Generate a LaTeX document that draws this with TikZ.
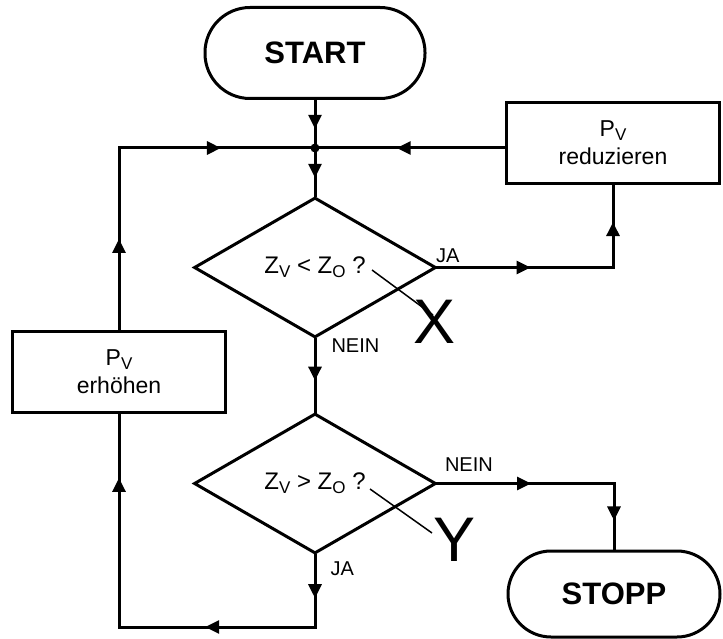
\documentclass[tikz,border=0pt]{standalone}
\usepackage{fontspec}
\setmainfont{Liberation Sans}
\usetikzlibrary{positioning, shapes.geometric, arrows.meta, decorations.markings}
\newcommand{\lowsub}[1]{\raisebox{-4pt}{\fontsize{17}{17}\selectfont #1}}

\begin{document}
\begin{tikzpicture}[
    x=1pt, y=-1pt,
    line width=3pt,
    terminal/.style={rectangle, draw, rounded corners=45pt, minimum width=220pt, minimum height=91pt, font=\fontsize{31}{36}\selectfont\bfseries},
    decision/.style={diamond, draw, minimum width=242pt, minimum height=140pt, inner sep=0pt, font=\fontsize{24}{28}\selectfont},
    process/.style={rectangle, draw, minimum width=213pt, minimum height=81pt, align=center, font=\fontsize{23}{28}\selectfont},
    answer/.style={inner sep=0pt, font=\fontsize{20}{24}\selectfont},
    bigletter/.style={inner sep=0pt, font=\fontsize{63}{70}\selectfont},
    leader/.style={line width=1.5pt},
    flow/.style={line cap=rect},
    midarrow/.style={flow, postaction={decorate}, decoration={markings, mark=at position #1 with {\arrow{Triangle[length=14pt,width=13pt]}}}}
]
\useasboundingbox (0,0) rectangle (723,639);

% Main column
\node[terminal] (start) at (315,53) {START};
\coordinate[below=48pt of start] (jn);
\node[decision, below=96pt of start] (vgl1) {Z\lowsub{V} < Z\lowsub{O} ?};
\node[decision, below=73pt of vgl1] (vgl2) {Z\lowsub{V} > Z\lowsub{O} ?};
\coordinate[below=72pt of vgl2] (ku);

% Side boxes
\node[process] (red) at (613,143) {P\lowsub{V}\\reduzieren};
\node[process] (erh) at (119,372) {P\lowsub{V}\\erhöhen};
\node[terminal, minimum width=212pt, minimum height=86pt, rounded corners=43pt] (stop) at (614,594) {STOPP};

% Corners
\coordinate (kl) at (erh.north |- jn);
\coordinate (kl2) at (erh.south |- ku);
\coordinate (kr1) at (red.south |- vgl1.east);
\coordinate (kr2) at (stop.north |- vgl2.east);

% Edges
\draw[midarrow=0.6] (start) -- (jn);
\draw[midarrow=0.62] (jn) -- (vgl1);
\draw[midarrow=0.57] (red.west |- jn) -- (jn);
\draw[midarrow=0.52] (kl) -- (jn);
\draw[midarrow=0.5] (erh) -- (kl);
\draw[midarrow=0.53] (vgl1.east) -- (kr1);
\draw[midarrow=0.55] (kr1) -- (red);
\draw[midarrow=0.57] (vgl1) -- (vgl2);
\draw[midarrow=0.53] (vgl2.east) -- (kr2);
\draw[midarrow=0.56] (kr2) -- (stop);
\draw[midarrow=0.6] (vgl2) -- (ku);
\draw[midarrow=0.56] (ku) -- (kl2);
\draw[midarrow=0.7] (kl2) -- (erh);
\fill (jn) circle (4.5pt);

% Answers
\node[answer, above right=3pt and -3pt of vgl1.east] (ja1) {JA};
\node[answer, below right=-2pt and 15pt of vgl1.south] (nein1) {NEIN};
\node[answer, above right=11pt and 6pt of vgl2.east] (nein2) {NEIN};
\node[answer, below right=5pt and 14pt of vgl2.south] (ja2) {JA};

% Marks X and Y
\node[bigletter] (mx) at (435,322) {X};
\node[bigletter] (my) at (455,540) {Y};
\coordinate (qx1) at (372,270);
\coordinate (qx2) at (433,315);
\coordinate (qy1) at (370,489);
\coordinate (qy2) at (432,533);
\draw[leader] (qx1) -- (qx2);
\draw[leader] (qy1) -- (qy2);

\end{tikzpicture}
\end{document}
